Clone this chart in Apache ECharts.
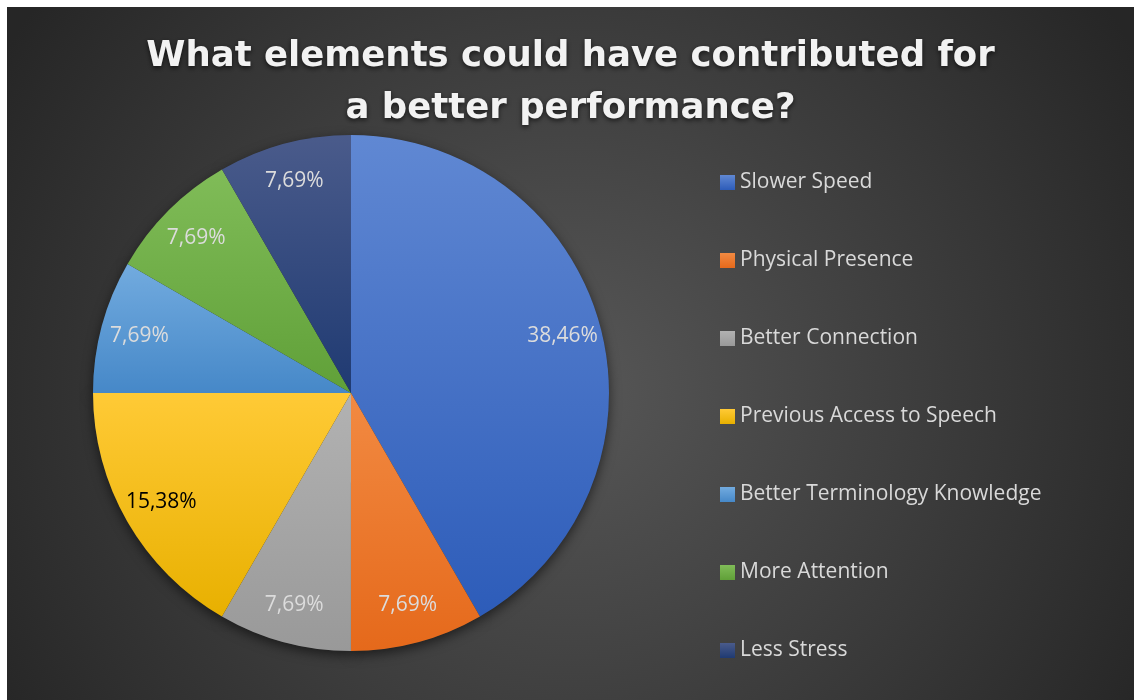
<!DOCTYPE html>
<html>
<head>
<meta charset="utf-8">
<script src="https://cdn.jsdelivr.net/npm/echarts@6/dist/echarts.min.js"></script>
<style>
  html, body { margin: 0; padding: 0; background: #ffffff; }
  #chart { position: absolute; left: 7px; top: 7px; width: 1127px; height: 693px; }
</style>
</head>
<body>
<div id="chart"></div>
<script>
// Survey answers: share of respondents (%) naming each element
const categories = [
  'Slower Speed',
  'Physical Presence',
  'Better Connection',
  'Previous Access to Speech',
  'Better Terminology Knowledge',
  'More Attention',
  'Less Stress'
];
const percentages = [38.46, 7.69, 7.69, 15.38, 7.69, 7.69, 7.69];

// Slice fills: [top, bottom] of a soft vertical gradient
const sliceShades = [
  ['#6088d3', '#2d5cb9'],
  ['#f28a42', '#e5691b'],
  ['#b2b2b2', '#999999'],
  ['#ffca36', '#e8b000'],
  ['#72abdf', '#4688c8'],
  ['#80bc58', '#60a038'],
  ['#4a5b8b', '#1f3a72']
];
const labelColors = ['#dcdcdc', '#dcdcdc', '#dcdcdc', '#000000', '#dcdcdc', '#dcdcdc', '#dcdcdc'];

function vGrad(top, bottom) {
  return {
    type: 'linear', x: 0, y: 0, x2: 0, y2: 1,
    colorStops: [{ offset: 0, color: top }, { offset: 1, color: bottom }]
  };
}

const center = [344, 386];
const outerR = 258;

const sliceData = categories.map((name, i) => ({
  name: name,
  value: percentages[i],
  itemStyle: { color: vGrad(sliceShades[i][0], sliceShades[i][1]) }
}));

const labelData = categories.map((name, i) => ({
  name: name,
  value: percentages[i],
  label: { color: labelColors[i] }
}));

const chart = echarts.init(document.getElementById('chart'), null, { renderer: 'canvas' });

chart.setOption({
  animation: false,
  backgroundColor: {
    type: 'radial', x: 0.5, y: 0.55, r: 0.95,
    colorStops: [
      { offset: 0, color: '#575757' },
      { offset: 1, color: '#262626' }
    ]
  },
  title: {
    text: 'What elements could have contributed for\na better performance?',
    left: 'center',
    top: 24,
    padding: 0,
    textStyle: {
      fontFamily: 'DejaVu Sans',
      fontWeight: 'bold',
      fontSize: 35.5,
      lineHeight: 52,
      color: '#f2f2f2',
      textShadowColor: 'rgba(0,0,0,0.65)',
      textShadowBlur: 5,
      textShadowOffsetY: 2
    }
  },
  legend: {
    orient: 'vertical',
    left: 708,
    top: 160,
    itemWidth: 15,
    itemHeight: 15,
    itemGap: 57,
    icon: 'rect',
    selectedMode: false,
    data: categories,
    textStyle: {
      fontFamily: 'Open Sans',
      fontSize: 21,
      lineHeight: 20,
      color: '#d9d9d9'
    }
  },
  series: [
    {
      // visible slices
      name: 'slices',
      type: 'pie',
      z: 3,
      center: center,
      radius: [0, outerR],
      startAngle: 90,
      clockwise: true,
      label: { show: false },
      labelLine: { show: false },
      itemStyle: { borderWidth: 0 },
      emphasis: { disabled: true },
      silent: true,
      data: sliceData
    },
    {
      // soft drop shadow behind the disc
      name: 'shadow',
      type: 'pie',
      z: 2,
      center: center,
      radius: [0, outerR],
      startAngle: 90,
      label: { show: false },
      labelLine: { show: false },
      itemStyle: {
        color: '#333333',
        shadowColor: 'rgba(0,0,0,0.55)',
        shadowBlur: 12,
        shadowOffsetY: 4
      },
      emphasis: { disabled: true },
      silent: true,
      data: percentages.map((v, i) => ({ name: categories[i], value: v }))
    },
    {
      // percentage labels, placed in the outer band of each slice
      name: 'labels',
      type: 'pie',
      z: 4,
      center: center,
      radius: [174, outerR],
      startAngle: 90,
      avoidLabelOverlap: false,
      itemStyle: { color: 'rgba(0,0,0,0)' },
      label: {
        show: true,
        position: 'inside',
        fontFamily: 'Open Sans',
        fontSize: 21,
        formatter: p => p.value.toFixed(2).replace('.', ',') + '%'
      },
      labelLine: { show: false },
      emphasis: { disabled: true },
      silent: true,
      data: labelData
    }
  ]
});
</script>
</body>
</html>
